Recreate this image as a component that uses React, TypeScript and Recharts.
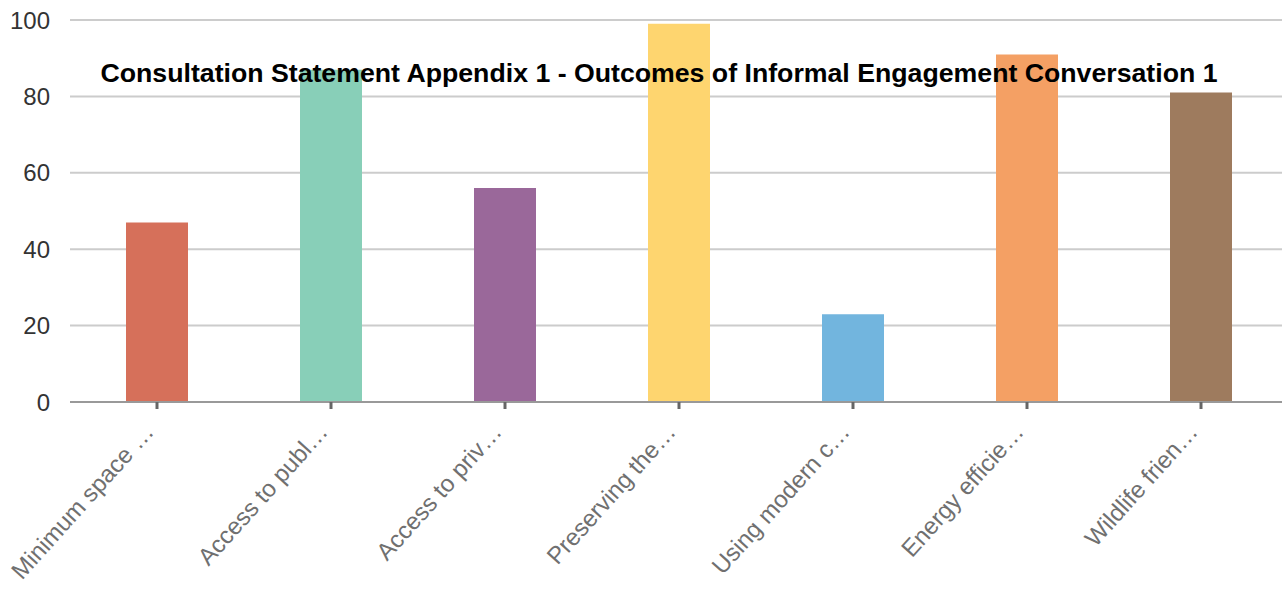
import { BarChart, Bar, XAxis, YAxis, CartesianGrid, Cell } from "recharts";

const categories = [
  "Minimum space \u2026",
  "Access to publ\u2026",
  "Access to priv\u2026",
  "Preserving the\u2026",
  "Using modern c\u2026",
  "Energy efficie\u2026",
  "Wildlife frien\u2026",
];
const values = [47, 87, 56, 99, 23, 91, 81];
const colors = ["#d6705a", "#88cfb8", "#9a689a", "#fed56f", "#72b5de", "#f4a064", "#9e7b5e"];
const yTicks = [0, 20, 40, 60, 80, 100];

const title = "Consultation Statement Appendix 1 - Outcomes of Informal Engagement Conversation 1";

const data = categories.map((name, i) => ({ name, value: values[i] }));

function XTick(props: any) {
  const { x, y, payload } = props;
  return (
    <g transform={`translate(${x - 2},${y + 22})`}>
      <text
        transform="rotate(-48)"
        textAnchor="end"
        fill="#707070"
        fontSize={24}
        fontFamily="'Liberation Sans', Arial, sans-serif"
      >
        {payload.value}
      </text>
    </g>
  );
}

export default function App() {
  return (
    <div
      style={{
        position: "absolute",
        left: 0,
        top: 0,
        width: 1282,
        height: 598,
        overflow: "hidden",
        background: "#fff",
      }}
    >
      <BarChart
        width={1288}
        height={598}
        data={data}
        margin={{ top: 20, right: 0, bottom: 0, left: 0 }}
        barCategoryGap={0}
      >
        <CartesianGrid vertical={false} stroke="#ccc" strokeWidth={2} />
        <XAxis
          dataKey="name"
          height={196}
          interval={0}
          stroke="#999"
          strokeWidth={2}
          tickSize={7}
          tickLine={{ stroke: "#666", strokeWidth: 3 }}
          tickMargin={2}
          tick={<XTick />}
        />
        <YAxis
          width={70}
          domain={[0, 100]}
          ticks={yTicks}
          axisLine={false}
          tickLine={false}
          tickSize={0}
          tickMargin={20}
          tick={{ fill: "#333", fontSize: 24, fontFamily: "'Liberation Sans', Arial, sans-serif" }}
        />
        <Bar dataKey="value" barSize={62} isAnimationActive={false}>
          {data.map((d, i) => (
            <Cell key={d.name} fill={colors[i]} />
          ))}
        </Bar>
      </BarChart>
      <div
        style={{
          position: "absolute",
          left: 0,
          width: 1318,
          top: 61,
          lineHeight: "24px",
          textAlign: "center",
          fontFamily: "'Liberation Sans', Arial, sans-serif",
          fontWeight: "bold",
          fontSize: 26.7,
          color: "#000",
          whiteSpace: "nowrap",
          pointerEvents: "none",
        }}
      >
        {title}
      </div>
    </div>
  );
}
